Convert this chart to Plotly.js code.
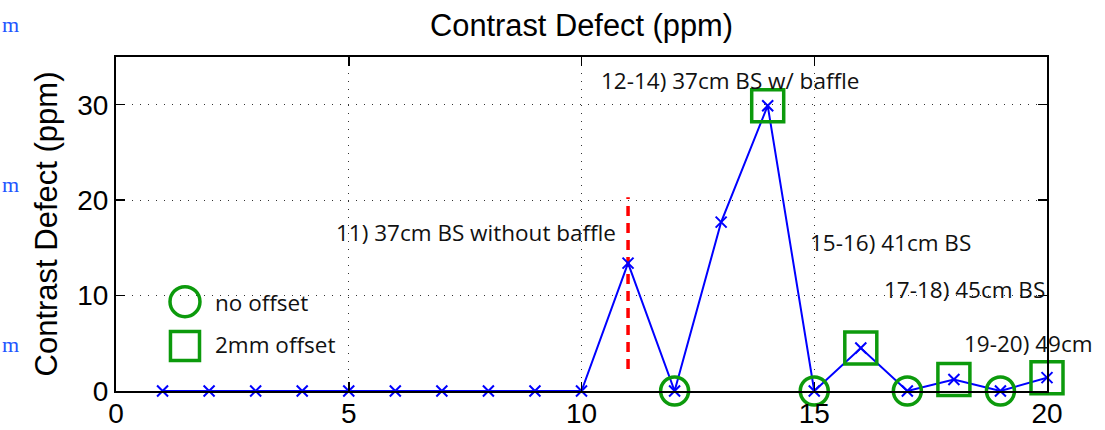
<!DOCTYPE html>
<html>
<head>
<meta charset="utf-8">
<script src="https://cdn.plot.ly/plotly-3.0.1.min.js"></script>
<style>
  html, body { margin: 0; padding: 0; background: #fff; }
  #chart { width: 1105px; height: 430px; }
</style>
</head>
<body>
<div id="chart"></div>
<script>
// Run number and measured contrast defect (ppm)
const runs = [1, 2, 3, 4, 5, 6, 7, 8, 9, 10, 11, 12, 13, 14, 15, 16, 17, 18, 19, 20];
const defectPpm = [0, 0, 0, 0, 0, 0, 0, 0, 0, 0, 13.4, 0, 17.7, 29.9, 0, 4.5, 0, 1.2, 0, 1.4];

// Runs taken with no offset and with a 2mm offset
const noOffsetRuns = [12, 15, 17, 19];
const offset2mmRuns = [14, 16, 18, 20];

// Marker line for run 11 (without baffle)
const baffleLineX = [11, 11];
const baffleLineY = [2.3, 20.3];

// Axis ticks
const xTicks = [0, 5, 10, 15, 20];
const yTicks = [0, 10, 20, 30];

// Configuration notes
const noteLabels = [
  '12-14) 37cm BS w/ baffle',
  '11) 37cm BS without baffle',
  '15-16) 41cm BS',
  '17-18) 45cm BS',
  '19-20) 49cm'
];
const legendLabels = ['no offset', '2mm offset'];
const sideLabels = ['m', 'm', 'm'];

const valueAt = r => defectPpm[runs.indexOf(r)];

const GREEN = '#0c9a0c';
const BLUE = '#0000ff';
const NOTE_FONT = { family: 'Open Sans, sans-serif', size: 22.5, color: '#111' };
const SANS = 'Liberation Sans, Arial, sans-serif';

const traces = [
  {
    x: baffleLineX, y: baffleLineY, mode: 'lines',
    line: { color: '#ff0000', width: 3.5, dash: '10px,7px' },
    hoverinfo: 'skip', showlegend: false
  },
  {
    x: runs, y: defectPpm, mode: 'lines+markers', cliponaxis: false,
    line: { color: BLUE, width: 2 },
    marker: { symbol: 'x-thin-open', size: 11, color: BLUE, line: { color: BLUE, width: 2 } },
    showlegend: false
  },
  {
    x: noOffsetRuns, y: noOffsetRuns.map(valueAt), mode: 'markers', cliponaxis: false,
    marker: { symbol: 'circle-open', size: 28, color: GREEN, line: { color: GREEN, width: 3.5 } },
    showlegend: false
  },
  {
    x: offset2mmRuns, y: offset2mmRuns.map(valueAt), mode: 'markers', cliponaxis: false,
    marker: { symbol: 'square-open', size: 32, color: GREEN, line: { color: GREEN, width: 3.5 } },
    showlegend: false
  }
];

const notePos = [
  [10.38, 32.55], [4.68, 16.64], [14.86, 15.6], [16.45, 10.67], [18.17, 5.02]
];

const annotations = noteLabels.map((t, i) => ({
  text: t, x: notePos[i][0], y: notePos[i][1], xref: 'x', yref: 'y',
  xanchor: 'left', yanchor: 'middle', showarrow: false, font: NOTE_FONT
}));

// legend text
[0.2635, 0.1407].forEach((yy, i) => annotations.push({
  text: legendLabels[i], x: 0.1045, y: yy, xref: 'paper', yref: 'paper',
  xanchor: 'left', yanchor: 'middle', showarrow: false, font: NOTE_FONT
}));

// clipped labels along the left edge
[1.098, 0.619, 0.140].forEach((yy, i) => annotations.push({
  text: sideLabels[i], x: -0.1246, y: yy, xref: 'paper', yref: 'paper',
  xanchor: 'left', yanchor: 'middle', showarrow: false,
  font: { family: 'Liberation Serif, serif', size: 22, color: '#2255ff' }
}));

const shapes = [
  { type: 'circle', xref: 'paper', yref: 'paper', x0: 0.058, x1: 0.0902, y0: 0.2225, y1: 0.3123,
    line: { color: GREEN, width: 3.5 } },
  { type: 'rect', xref: 'paper', yref: 'paper', x0: 0.0585, x1: 0.0897, y0: 0.0913, y1: 0.1781,
    line: { color: GREEN, width: 3.5 } }
];

const axisCommon = {
  ticks: 'inside', ticklen: 9, tickwidth: 1.5, tickcolor: '#000',
  showline: true, linecolor: '#000', linewidth: 2, mirror: 'ticks',
  showgrid: true, gridcolor: '#333', gridwidth: 1, griddash: '1px,7px',
  zeroline: false,
  tickfont: { family: SANS, size: 28, color: '#000' }
};

const layout = {
  width: 1105, height: 430,
  margin: { l: 116, r: 58, t: 57, b: 39 },
  paper_bgcolor: '#fff', plot_bgcolor: '#fff',
  title: {
    text: 'Contrast Defect (ppm)',
    font: { family: SANS, size: 30.8, color: '#000' },
    x: 0.5, xref: 'paper', y: 1 - 25 / 430, yref: 'container', yanchor: 'middle'
  },
  xaxis: Object.assign({}, axisCommon, { range: [0, 20], tickvals: xTicks, ticklabelstandoff: -4 }),
  yaxis: Object.assign({}, axisCommon, {
    range: [0, 35], tickvals: yTicks,
    title: { text: 'Contrast Defect (ppm)', standoff: 10,
      font: { family: SANS, size: 31, color: '#000' } }
  }),
  annotations: annotations,
  shapes: shapes,
  showlegend: false
};

Plotly.newPlot('chart', traces, layout, { displayModeBar: false, staticPlot: true });
</script>
</body>
</html>
